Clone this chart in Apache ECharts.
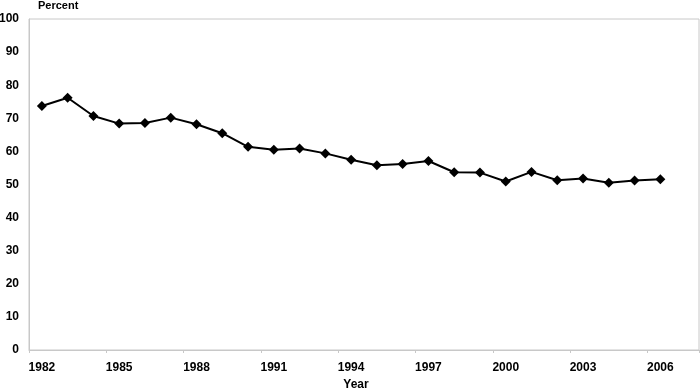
<!DOCTYPE html>
<html><head><meta charset="utf-8">
<script src="https://cdn.jsdelivr.net/npm/echarts@6/dist/echarts.min.js"></script>
<style>html,body{margin:0;padding:0;background:#fff}#c{width:700px;height:389px}</style>
</head><body><div id="c"></div>
<script>
var years = ['1982','1983','1984','1985','1986','1987','1988','1989','1990','1991','1992','1993','1994','1995','1996','1997','1998','1999','2000','2001','2002','2003','2004','2005','2006'];
var percent = [73.7,76.2,70.7,68.4,68.6,70.2,68.2,65.5,61.4,60.5,60.9,59.4,57.5,55.8,56.2,57.1,53.7,53.6,50.9,53.8,51.3,51.8,50.5,51.2,51.6];
var yTicks = [0,10,20,30,40,50,60,70,80,90,100];
var font = '"Liberation Sans", Arial, sans-serif';
var chart = echarts.init(document.getElementById('c'), null, {renderer:'canvas'});
chart.setOption({
  animation:false,
  grid:{left:29,right:1,top:19,bottom:39,containLabel:false,outerBoundsMode:'none',
        show:true,borderColor:'#c8c8c8',borderWidth:1,backgroundColor:'transparent'},
  graphic:[
    {type:'text',left:38,top:0,style:{text:'Percent',font:'bold 11px '+font,fill:'#000'}}
  ],
  xAxis:{
    type:'category',data:years,boundaryGap:true,max:years.length,
    name:'Year',nameLocation:'middle',nameGap:28,
    nameTextStyle:{fontFamily:font,fontWeight:'bold',fontSize:12,color:'#000',padding:[0,16,0,0]},
    axisLine:{lineStyle:{color:'#c8c8c8',width:1}},
    axisTick:{show:true,interval:2,length:3,lineStyle:{color:'#c8c8c8'}},
    axisLabel:{interval:2,margin:12,fontFamily:font,fontWeight:'bold',fontSize:12,color:'#000'},
    splitLine:{show:false}
  },
  yAxis:{
    type:'value',min:yTicks[0],max:yTicks[yTicks.length-1],interval:10,
    axisLine:{show:true,lineStyle:{color:'#c8c8c8',width:1}},
    axisTick:{show:false},
    axisLabel:{margin:10,fontFamily:font,fontWeight:'bold',fontSize:12,color:'#000'},
    splitLine:{show:false}
  },
  series:[{
    type:'line',data:percent,
    symbol:'diamond',symbolSize:10,
    lineStyle:{color:'#000',width:2},
    itemStyle:{color:'#000'}
  }]
});
</script></body></html>
